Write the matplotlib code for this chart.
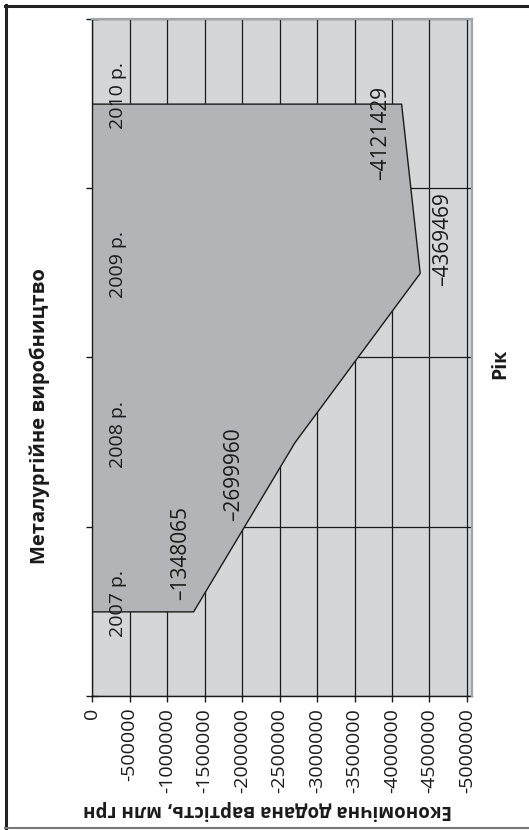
import matplotlib
matplotlib.use('Agg')
import matplotlib.pyplot as plt
from matplotlib.lines import Line2D

# ---- data ----
years = ['2007 р.', '2008 р.', '2009 р.', '2010 р.']
values = [-1348065, -2699960, -4369469, -4121429]
value_ticks = [0, -500000, -1000000, -1500000, -2000000, -2500000,
               -3000000, -3500000, -4000000, -4500000, -5000000]
title = 'Металургійне виробництво'
cat_axis_title = 'Рік'
val_axis_title = 'Економічна додана вартість, млн грн'

# label offsets in pixels (dx, dy) relative to each data point
label_offsets = [(-12.6, 58.5), (-60.5, -32.5), (22.8, 33.5), (-20.6, -29.5)]

plt.rcParams['font.family'] = ['Open Sans', 'DejaVu Sans']

W, H = 529, 830
fig = plt.figure(figsize=(W / 100, H / 100), dpi=100)
fig.patch.set_facecolor('white')

ax = fig.add_axes([92 / W, (H - 696) / H, (472 - 92) / W, (696 - 19) / H])
ax.set_facecolor('#d5d6d8')

pos = list(range(len(years)))
ax.fill_betweenx(pos, 0, values, facecolor='#b3b4b7', edgecolor='#1a1a1a',
                 linewidth=1.0, zorder=3)

ax.set_xlim(0, -5000000 * 380 / 375)
ax.set_ylim(-0.5, len(years) - 0.5)

ax.set_xticks(value_ticks)
ax.set_xticklabels([str(v) for v in value_ticks])
ax.tick_params(axis='x', direction='out', length=4.5, width=1.0, color='#1a1a1a',
               labelrotation=90, labelsize=14, pad=4, labelcolor='#1a1a1a')
bounds = [i - 0.5 for i in range(len(years) + 1)]
ax.set_yticks(bounds)
ax.set_yticklabels([])
ax.tick_params(axis='y', direction='inout', length=8, width=1.0, color='#1a1a1a')

ax.set_axisbelow(True)
ax.grid(True, color='#1a1a1a', linewidth=0.9)

for s in ['left', 'bottom']:
    ax.spines[s].set_color('#1a1a1a')
    ax.spines[s].set_linewidth(1.0)
for s in ['top', 'right']:
    ax.spines[s].set_color('#a3a4a6')
    ax.spines[s].set_linewidth(1.6)
    ax.spines[s].set_zorder(4)

for i, y in enumerate(years):
    ax.annotate(y, xy=(0, i), xytext=(26, 8), textcoords='offset pixels',
                rotation=90, ha='center', va='center', fontsize=14,
                color='#1a1a1a', zorder=5)

for i, v in enumerate(values):
    dx, dy = label_offsets[i]
    ax.annotate('–' + str(abs(v)), xy=(v, i), xytext=(dx, dy),
                textcoords='offset pixels', rotation=90, ha='center',
                va='center', fontsize=15, color='#1a1a1a', zorder=5)

fig.text(40 / W, (H - 416) / H, title, rotation=90, ha='center', va='center',
         fontsize=14.5, fontweight='bold', color='#1a1a1a')
fig.text(500 / W, (H - 364) / H, cat_axis_title, rotation=90, ha='center',
         va='center', fontsize=14, fontweight='bold', color='#1a1a1a')
fig.text(267 / W, (H - 810) / H, val_axis_title, rotation=180, ha='center',
         va='center', fontsize=13.5, fontweight='bold', color='#1a1a1a')

# outer frame
def px(x, y):
    return x / W, (H - y) / H

fig.add_artist(Line2D(*zip(px(6, 5), px(6, 828)), color='#222222', linewidth=2.2))
fig.add_artist(Line2D(*zip(px(5, 6), px(529, 6)), color='#222222', linewidth=2.2))
fig.add_artist(Line2D(*zip(px(5, 828), px(529, 828)), color='#777777', linewidth=1.5))

fig.savefig('out.png', dpi=100)
